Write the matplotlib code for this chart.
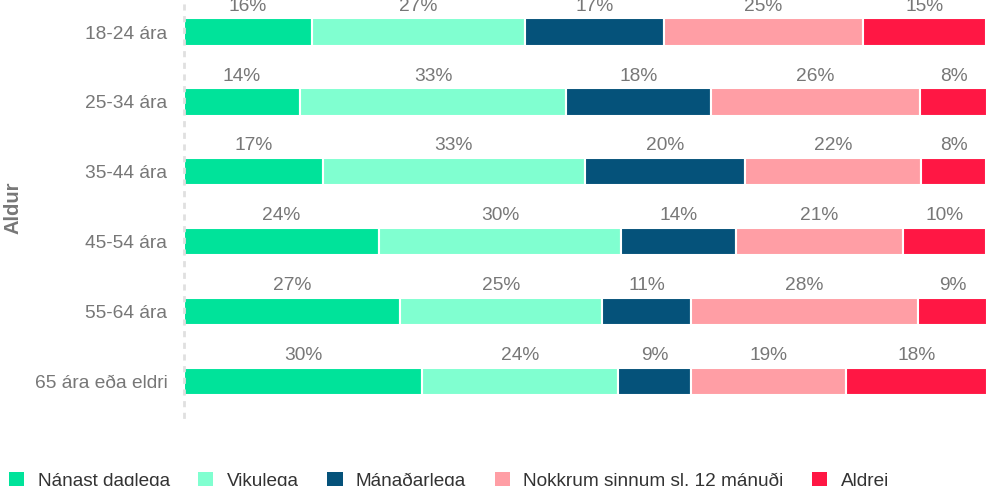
import matplotlib.pyplot as plt
from matplotlib.patches import Patch
import numpy as np

plt.rcParams['font.family'] = ['Liberation Sans', 'DejaVu Sans']

flokkar = ['18-24 ára', '25-34 ára', '35-44 ára', '45-54 ára', '55-64 ára', '65 ára eða eldri']
svor = ['Nánast daglega', 'Vikulega', 'Mánaðarlega', 'Nokkrum sinnum sl. 12 mánuði', 'Aldrei']
litir = ['#00E39A', '#80FFD0', '#05527A', '#FF9EA5', '#FF1744']

# hlutföll lesin af myndinni (%)
nanast = [15.9, 14.4, 17.3, 24.3, 26.9, 29.6]
vikulega = [26.6, 33.2, 32.6, 30.1, 25.2, 24.4]
manadarlega = [17.3, 18.0, 20.0, 14.4, 11.0, 9.2]
nokkrum = [24.7, 26.1, 21.9, 20.7, 28.3, 19.2]
aldrei = [15.4, 8.3, 8.1, 10.4, 8.6, 17.6]

gogn = np.array([nanast, vikulega, manadarlega, nokkrum, aldrei])

fig = plt.figure(figsize=(9.87, 4.86), dpi=100)
ax = fig.add_axes([184/987, 1 - 417/486, 1 - 184/987, 422/486])

y = np.arange(len(flokkar))
vinstri = np.zeros(len(flokkar))
for i in range(len(svor)):
    ax.barh(y, gogn[i], left=vinstri, height=0.39, color=litir[i],
            edgecolor='white', linewidth=1.5, label=svor[i])
    for j in range(len(flokkar)):
        ax.text(vinstri[j] + gogn[i][j] / 2, y[j] - 0.37, f'{round(gogn[i][j])}%',
                ha='center', va='center', fontsize=13.8, color='#777777')
    vinstri += gogn[i]

ax.set_xlim(0, 100)
ax.set_ylim(len(flokkar) - 0.49, -0.53)
ax.set_yticks(y)
ax.set_yticklabels(flokkar, fontsize=13.8, color='#777777')
ax.set_xticks([])
ax.tick_params(axis='y', length=0, pad=12)
for s in ['top', 'right', 'bottom']:
    ax.spines[s].set_visible(False)
ax.spines['left'].set_linestyle((0, (1.2, 3)))
ax.spines['left'].set_color('#e0e0e0')
ax.spines['left'].set_linewidth(2)

fig.text(13.5/987, 1 - 208/486, 'Aldur', rotation=90, ha='center', va='center',
         fontsize=14.5, fontweight='bold', color='#777777')

handles = [Patch(facecolor=litir[i], edgecolor='none', label=svor[i]) for i in range(len(svor))]
fig.legend(handles=handles, loc='center left', bbox_to_anchor=(9/987, 1 - 481/486),
           ncol=5, frameon=False, fontsize=13.7, borderpad=0, borderaxespad=0,
           handlelength=0.8, handleheight=0.8, handletextpad=0.7, columnspacing=1.5,
           labelcolor='#333333')

fig.savefig('out.png', dpi=100)
